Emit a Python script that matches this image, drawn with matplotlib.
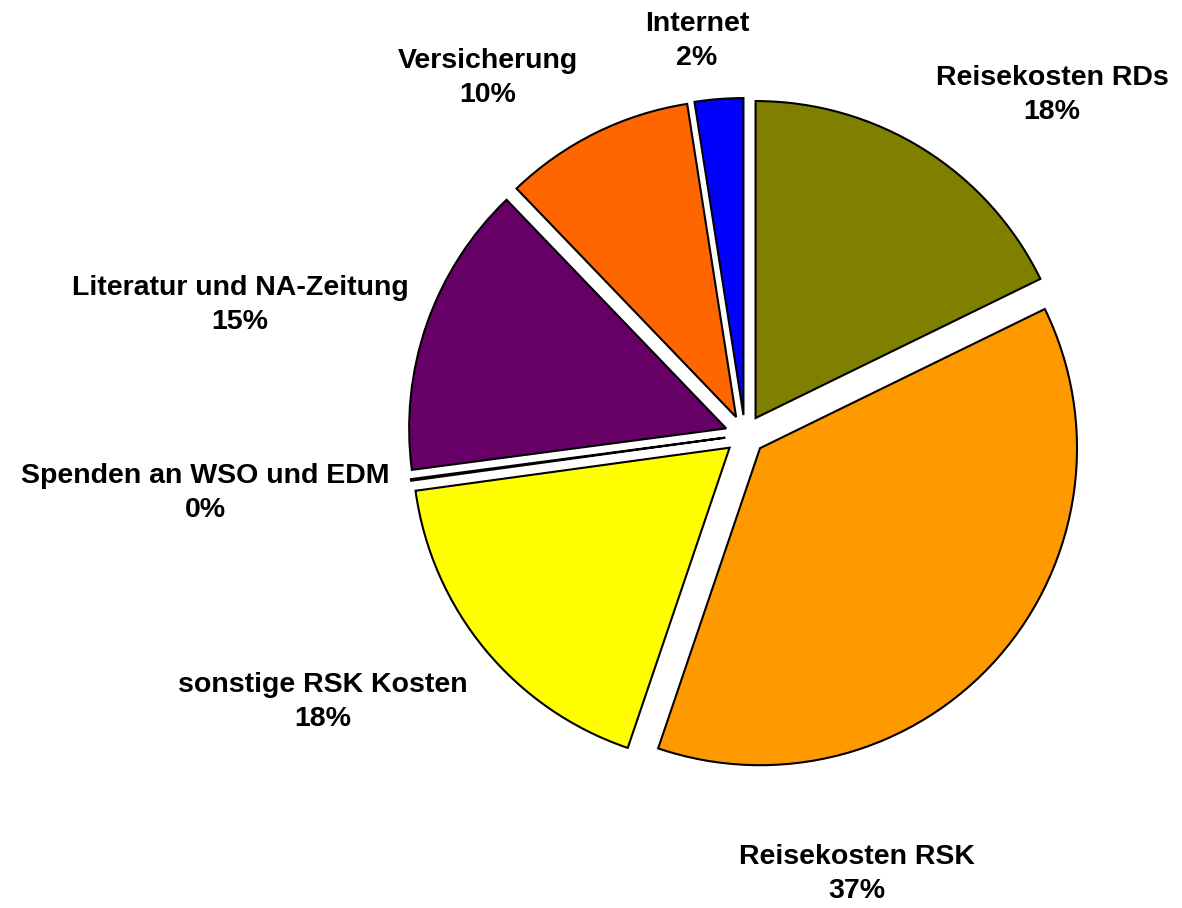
import matplotlib
matplotlib.use("Agg")
import matplotlib.pyplot as plt

categories = ["Reisekosten RDs", "Reisekosten RSK", "sonstige RSK Kosten",
              "Spenden an WSO und EDM", "Literatur und NA-Zeitung",
              "Versicherung", "Internet"]
values = [17.78, 37.47, 17.64, 0.08, 14.92, 9.72, 2.47]
pct_labels = ["18%", "37%", "18%", "0%", "15%", "10%", "2%"]
colors = ["#808000", "#FF9900", "#FFFF00", "#99CCFF", "#660066", "#FF6600", "#0000FF"]

W, H = 1182, 908
cx, cy, R = 745, 435, 317  # pixel centre and radius

fig = plt.figure(figsize=(W / 100, H / 100), dpi=100)
ax = fig.add_axes([0, 0, 1, 1])

ax.pie(values, colors=colors, startangle=90, counterclock=False,
       explode=[0.063] * len(values), radius=1, center=(0, 0),
       wedgeprops=dict(edgecolor="black", linewidth=1.5), frame=True)
ax.set_xlim(-cx / R, (W - cx) / R)
ax.set_ylim(-(H - cy) / R, cy / R)
ax.set_aspect("auto")
ax.axis("off")

# label centres in pixel coordinates
label_px = [(1052, 95), (857, 874), (323, 702), (205, 493),
            (240, 305), (488, 78), (697, 41)]

for name, pct, (px, py) in zip(categories, pct_labels, label_px):
    ax.text((px - cx) / R, (cy - py) / R, f"{name}\n{pct}",
            ha="center", va="center", fontsize=20.5, fontweight="bold",
            family=["Liberation Sans", "DejaVu Sans"], linespacing=1.4)

fig.savefig("out.png", dpi=100)
